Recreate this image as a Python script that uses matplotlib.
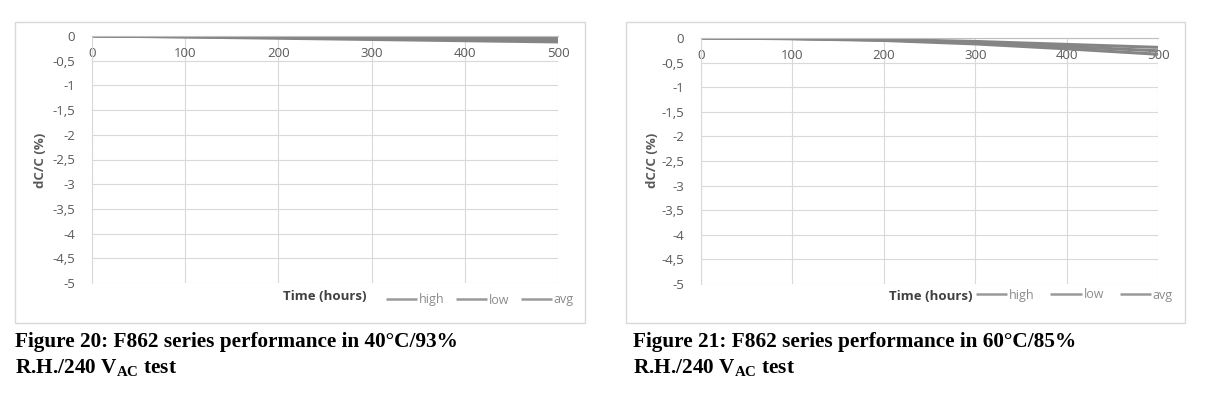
import matplotlib
matplotlib.use("Agg")
import matplotlib.pyplot as plt
from matplotlib.patches import Rectangle
from matplotlib.ticker import FuncFormatter, MultipleLocator

hours = [0, 100, 200, 300, 400, 500]
series_names = ["high", "low", "avg"]

# Figure 20: 40°C/93% R.H.
f20_high = [0, -0.01, -0.02, -0.03, -0.035, -0.04]
f20_low = [0, -0.02, -0.045, -0.07, -0.095, -0.12]
f20_avg = [0, -0.015, -0.03, -0.05, -0.065, -0.08]

# Figure 21: 60°C/85% R.H.
f21_high = [0, -0.01, -0.03, -0.07, -0.13, -0.19]
f21_low = [0, -0.015, -0.05, -0.12, -0.22, -0.33]
f21_avg = [0, -0.012, -0.04, -0.095, -0.175, -0.26]

captions = [
    ("Figure 20: F862 series performance in 40°C/93%", r"R.H./240 V$_\mathrm{AC}$ test"),
    ("Figure 21: F862 series performance in 60°C/85%", r"R.H./240 V$_\mathrm{AC}$ test"),
]

plt.rcParams['mathtext.fontset'] = 'custom'
plt.rcParams['mathtext.rm'] = 'Liberation Serif:bold'
plt.rcParams['mathtext.it'] = 'Liberation Serif:bold'
plt.rcParams['mathtext.bf'] = 'Liberation Serif:bold'

W, H = 1210, 394
fig = plt.figure(figsize=(W / 100, H / 100), dpi=100)

TICK = "#595959"
GRID = "#d9d9d9"
LINE = "#858585"
SANS = "Open Sans"

panels = [
    dict(data=[f20_high, f20_low, f20_avg], ax=(92, 36, 558, 283), frame=(15, 22, 585, 323),
         ylab_x=40, time_x=325, leg_x=386, leg_y=300, colsp=0.9, cap_x=15),
    dict(data=[f21_high, f21_low, f21_avg], ax=(701, 38, 1158, 284), frame=(626, 22, 1185, 323),
         ylab_x=652, time_x=931, leg_x=976, leg_y=295, colsp=1.25, cap_x=633),
]

fmt = FuncFormatter(lambda v, p: ("%g" % v).replace(".", ","))

for i, p in enumerate(panels):
    fx0, fy0, fx1, fy1 = p["frame"]
    fig.patches.append(Rectangle((fx0 / W, 1 - fy1 / H), (fx1 - fx0) / W, (fy1 - fy0) / H,
                                 transform=fig.transFigure, fill=False, edgecolor=GRID, lw=1.0))
    x0, y0, x1, y1 = p["ax"]
    ax = fig.add_axes([x0 / W, 1 - y1 / H, (x1 - x0) / W, (y1 - y0) / H])
    handles = []
    for vals, name in zip(p["data"], series_names):
        h, = ax.plot(hours, vals, color=LINE, lw=2.2, label=name, solid_capstyle='butt')
        handles.append(h)
    ax.set_xlim(0, 500)
    ax.set_ylim(-5, 0)
    ax.xaxis.set_major_locator(MultipleLocator(100))
    ax.yaxis.set_major_locator(MultipleLocator(0.5))
    ax.yaxis.set_major_formatter(fmt)
    ax.grid(True, color=GRID, lw=0.8)
    ax.set_axisbelow(True)
    for s in ["top", "right"]:
        ax.spines[s].set_visible(False)
    ax.spines["left"].set_color(GRID)
    ax.spines["bottom"].set_position(("data", 0))
    ax.spines["bottom"].set_color("#bfbfbf")
    ax.tick_params(length=0, labelsize=9.5, labelcolor=TICK)
    ax.tick_params(axis="y", pad=12)
    ax.tick_params(axis="x", pad=8)
    for lbl in ax.get_xticklabels() + ax.get_yticklabels():
        lbl.set_fontfamily(SANS)
    fig.text(p["ylab_x"] / W, 1 - 160 / H, "dC/C (%)", rotation=90, ha="center", va="center",
             fontsize=9.5, fontweight="bold", color=TICK, family=SANS)
    fig.text(p["time_x"] / W, 1 - 297 / H, "Time (hours)", ha="center", va="center",
             fontsize=9.5, fontweight="bold", color="#404040", family=SANS)
    leg = fig.legend(handles=handles, loc="center left",
                     bbox_to_anchor=(p["leg_x"] / W, 1 - p["leg_y"] / H),
                     ncol=3, frameon=False, handlelength=2.5, handletextpad=0.15,
                     columnspacing=p["colsp"], borderaxespad=0, borderpad=0,
                     labelcolor="#8c8c8c", prop={"family": SANS, "size": 9})
    for lh in leg.get_lines():
        lh.set_linewidth(1.8)
        lh.set_color("#9a9a9a")
    l1, l2 = captions[i]
    fig.text(p["cap_x"] / W, 1 - 347 / H, l1, ha="left", va="baseline", fontsize=15.3,
             fontweight="bold", family="Liberation Serif", color="black")
    fig.text(p["cap_x"] / W, 1 - 373 / H, l2, ha="left", va="baseline", fontsize=15.3,
             fontweight="bold", family="Liberation Serif", color="black")

fig.savefig("out.png", dpi=100, facecolor="white")
